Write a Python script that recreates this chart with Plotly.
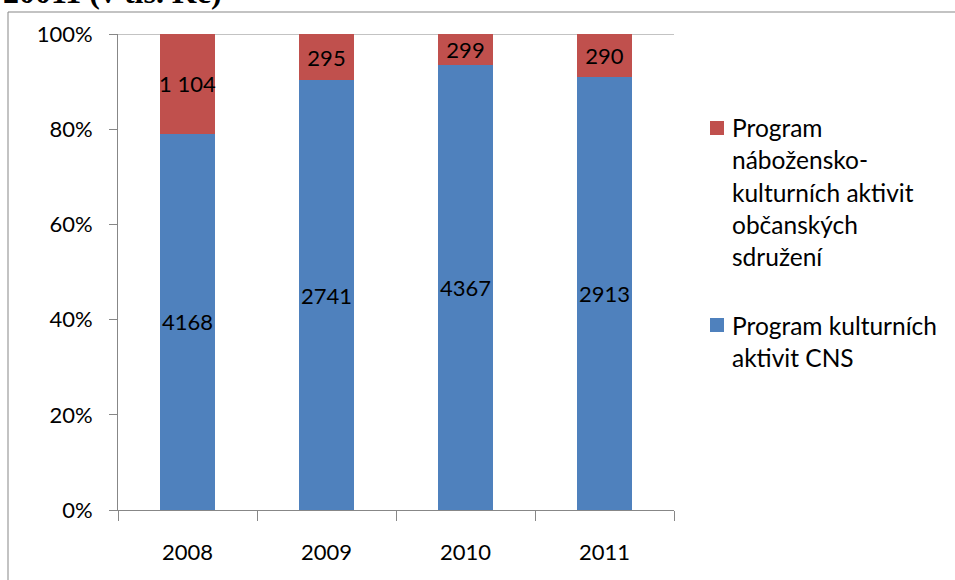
import plotly.graph_objects as go

years = ["2008", "2009", "2010", "2011"]
cns_values = [4168, 2741, 4367, 2913]
cns_labels = ["4168", "2741", "4367", "2913"]
rel_values = [1104, 295, 299, 290]
rel_labels = ["1 104", "295", "299", "290"]
ytick_vals = [0, 20, 40, 60, 80, 100]
ytick_text = ["0%", "20%", "40%", "60%", "80%", "100%"]
legend_rel = ["Program", "nábožensko-", "kulturních aktivit", "občanských", "sdružení"]
legend_cns = ["Program kulturních", "aktivit CNS"]
title_text = "20011 (v tis. Kč)"

RED = "#C0504D"
BLUE = "#4F81BD"
AXIS = "#878787"
FONT = "Lato, 'Open Sans', sans-serif"
FS = 22
LFS = 24.5

# plot area in pixels
W, H = 955, 580
L, R, T, B = 118, 674, 34, 510


def px(x):
    return (x - L) / (R - L)


def py(y):
    return (B - y) / (B - T)


fig = go.Figure()
fig.add_trace(go.Bar(
    x=years, y=cns_values, name="Program kulturních aktivit CNS",
    marker=dict(color=BLUE, line=dict(width=0)),
    text=cns_labels, textposition="inside", insidetextanchor="middle",
    textangle=0, constraintext="none",
    textfont=dict(family=FONT, size=FS, color="black"),
))
fig.add_trace(go.Bar(
    x=years, y=rel_values, name="Program nábožensko-kulturních aktivit občanských sdružení",
    marker=dict(color=RED, line=dict(width=0)),
    text=rel_labels, textposition="inside", insidetextanchor="middle",
    textangle=0, constraintext="none",
    textfont=dict(family=FONT, size=FS, color="black"),
))

fig.update_layout(
    width=W, height=H,
    barmode="stack", barnorm="percent", bargap=0.6,
    showlegend=False,
    plot_bgcolor="white", paper_bgcolor="white",
    margin=dict(l=L, r=W - R, t=T, b=H - B, pad=0),
    font=dict(family=FONT, size=FS, color="black"),
    xaxis=dict(
        showgrid=False, showline=True, linecolor=AXIS, linewidth=1,
        ticks="outside", ticklen=10, tickcolor=AXIS, tickson="boundaries",
        tickfont=dict(family=FONT, size=FS, color="black"),
        ticklabelstandoff=23,
    ),
    yaxis=dict(
        range=[0, 100], tickvals=ytick_vals, ticktext=ytick_text,
        showgrid=False, showline=True, linecolor=AXIS, linewidth=1,
        ticks="outside", ticklen=8, tickcolor=AXIS, zeroline=False,
        tickfont=dict(family=FONT, size=FS, color="black"),
        ticklabelstandoff=12,
    ),
)

shapes = [
    # top gridline at 100%
    dict(type="line", xref="paper", yref="y", x0=0, x1=1, y0=100, y1=100,
         line=dict(color=AXIS, width=1), layer="below"),
    # outer chart border
    dict(type="rect", xref="paper", yref="paper",
         x0=px(8), x1=px(1200), y0=py(800), y1=py(12),
         line=dict(color=AXIS, width=1), fillcolor="rgba(0,0,0,0)"),
    # legend squares
    dict(type="rect", xref="paper", yref="paper",
         x0=px(710), x1=px(724), y0=py(135), y1=py(121),
         fillcolor=RED, line=dict(width=0)),
    dict(type="rect", xref="paper", yref="paper",
         x0=px(710), x1=px(724), y0=py(332), y1=py(318),
         fillcolor=BLUE, line=dict(width=0)),
]
fig.update_layout(shapes=shapes)

annotations = []
for i, line in enumerate(legend_rel):
    annotations.append(dict(text=line, xref="paper", yref="paper",
                            x=px(730), y=py(128 + 32 * i), xanchor="left", yanchor="middle",
                            showarrow=False, font=dict(family=FONT, size=LFS, color="black")))
for i, line in enumerate(legend_cns):
    annotations.append(dict(text=line, xref="paper", yref="paper",
                            x=px(730), y=py(325 + 32 * i), xanchor="left", yanchor="middle",
                            showarrow=False, font=dict(family=FONT, size=LFS, color="black")))
annotations.append(dict(text="<b>" + title_text + "</b>", xref="paper", yref="paper",
                        x=px(1), y=py(12.5), xanchor="left", yanchor="bottom",
                        showarrow=False,
                        font=dict(family="'Liberation Serif', 'Times New Roman', serif", size=32, color="black")))
fig.update_layout(annotations=annotations)

fig.write_html("out.html", config={"displayModeBar": False},
               post_script="document.body.style.margin='0';document.body.style.padding='0';")
